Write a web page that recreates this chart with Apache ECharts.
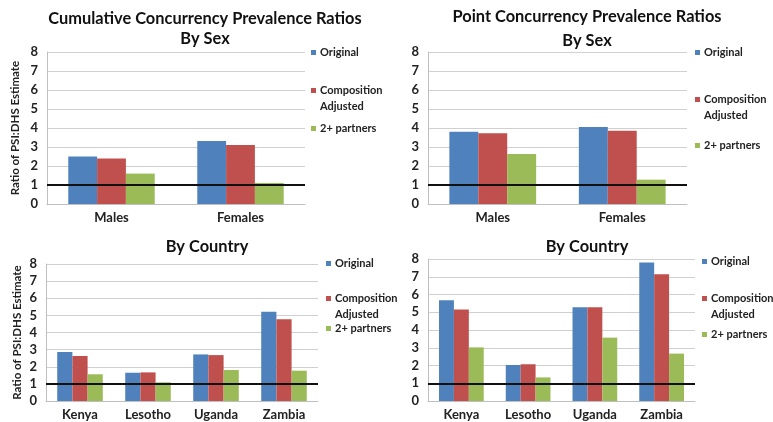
<!DOCTYPE html>
<html>
<head>
<meta charset="utf-8">
<script src="https://cdn.jsdelivr.net/npm/echarts@6/dist/echarts.min.js"></script>
<style>
  html, body { margin: 0; padding: 0; background: #ffffff; }
  #chart { width: 773px; height: 422px; }
</style>
</head>
<body>
<div id="chart"></div>
<script>
// Category labels
const sexCategories = ['Males', 'Females'];
const countryCategories = ['Kenya', 'Lesotho', 'Uganda', 'Zambia'];
const seriesNames = ['Original', 'Composition Adjusted', '2+ partners'];
const yTicks = [0, 1, 2, 3, 4, 5, 6, 7, 8];
const referenceRatio = 1;

// Cumulative concurrency, by sex
const cumSexOriginal = [2.5, 3.32];
const cumSexComposition = [2.4, 3.11];
const cumSexTwoPlus = [1.6, 1.11];

// Point concurrency, by sex
const pointSexOriginal = [3.8, 4.05];
const pointSexComposition = [3.73, 3.85];
const pointSexTwoPlus = [2.63, 1.28];

// Cumulative concurrency, by country
const cumCountryOriginal = [2.86, 1.65, 2.72, 5.21];
const cumCountryComposition = [2.63, 1.67, 2.68, 4.77];
const cumCountryTwoPlus = [1.56, 1.09, 1.81, 1.77];

// Point concurrency, by country
const pointCountryOriginal = [5.67, 2.03, 5.28, 7.8];
const pointCountryComposition = [5.15, 2.07, 5.28, 7.14];
const pointCountryTwoPlus = [3.02, 1.33, 3.57, 2.67];

const colors = ['#4F81BD', '#C0504D', '#9BBB59'];
const FONT = 'Lato, "Open Sans", sans-serif';
const TEXT = '#222222';
const LEGEND_SIZE = 11;

const panels = [
  { grid: { left: 47, top: 52, width: 258, height: 152 }, cats: sexCategories,
    data: [cumSexOriginal, cumSexComposition, cumSexTwoPlus], yName: 'Ratio of PSI:DHS Estimate', nameGap: 26,
    legend: { x: 311, y: [54, 92, 130] } },
  { grid: { left: 428, top: 52, width: 259, height: 152 }, cats: sexCategories,
    data: [pointSexOriginal, pointSexComposition, pointSexTwoPlus], yName: '', nameGap: 26,
    legend: { x: 695, y: [54, 101, 147] } },
  { grid: { left: 46, top: 264, width: 272, height: 137 }, cats: countryCategories,
    data: [cumCountryOriginal, cumCountryComposition, cumCountryTwoPlus], yName: 'Ratio of PSI:DHS Estimate', nameGap: 23,
    legend: { x: 326, y: [265, 300, 330] } },
  { grid: { left: 428, top: 259, width: 267, height: 142 }, cats: countryCategories,
    data: [pointCountryOriginal, pointCountryComposition, pointCountryTwoPlus], yName: '', nameGap: 26,
    legend: { x: 702, y: [263, 300, 336] } }
];

const grids = [], xAxes = [], yAxes = [], series = [], legends = [], graphics = [];

panels.forEach((p, i) => {
  grids.push(Object.assign({ containLabel: false }, p.grid));
  xAxes.push({
    type: 'category', gridIndex: i, data: p.cats,
    axisLine: { lineStyle: { color: '#bfbfbf', width: 1 } },
    axisTick: { show: false },
    axisLabel: { margin: 7, fontFamily: FONT, fontSize: 13, color: TEXT, fontWeight: 'bold' }
  });
  yAxes.push({
    type: 'value', gridIndex: i, min: yTicks[0], max: yTicks[yTicks.length - 1], interval: 1,
    name: p.yName, nameLocation: 'middle', nameGap: p.nameGap, nameRotate: 90,
    nameTextStyle: { fontFamily: FONT, fontSize: 11.5, fontWeight: 'bold', color: TEXT },
    axisLine: { show: true, lineStyle: { color: '#bfbfbf', width: 1 } },
    axisTick: { show: false },
    splitLine: { lineStyle: { color: '#d0d0d0', width: 1 } },
    axisLabel: { margin: 9, fontFamily: FONT, fontSize: 13, color: TEXT, fontWeight: 'bold' }
  });
  p.data.forEach((vals, k) => {
    const s = {
      type: 'bar', name: seriesNames[k], xAxisIndex: i, yAxisIndex: i,
      data: vals, barGap: '0%', barCategoryGap: '33%',
      itemStyle: { color: colors[k] }, animation: false
    };
    if (k === 2) {
      s.markLine = {
        silent: true, symbol: 'none', animation: false,
        label: { show: false },
        lineStyle: { color: '#111111', width: 2, type: 'solid' },
        data: [{ yAxis: referenceRatio }]
      };
    }
    series.push(s);
  });
  // One legend entry per series so each can sit at its own height
  seriesNames.forEach((name, k) => {
    legends.push({
      data: [name], orient: 'vertical', left: p.legend.x, top: p.legend.y[k] - 7,
      icon: 'rect', itemWidth: 5, itemHeight: 5, itemGap: 0, padding: 0,
      selectedMode: false,
      formatter: n => (n === 'Composition Adjusted' ? 'Composition' : n),
      textStyle: { fontFamily: FONT, fontSize: LEGEND_SIZE, color: TEXT, fontWeight: 'bold', padding: [0, 0, 0, -1] }
    });
  });
  graphics.push({
    type: 'text', x: p.legend.x + 9, y: p.legend.y[1] + 14,
    style: { text: 'Adjusted', font: 'bold ' + LEGEND_SIZE + 'px ' + FONT, fill: TEXT, textVerticalAlign: 'middle' }
  });
});

// Panel titles
const titleFont = 'bold 16.4px ' + FONT;
[
  { text: 'Cumulative Concurrency Prevalence Ratios', x: 205, y: 19 },
  { text: 'By Sex', x: 205, y: 39 },
  { text: 'Point Concurrency Prevalence Ratios', x: 587, y: 17 },
  { text: 'By Sex', x: 587, y: 41 },
  { text: 'By Country', x: 207, y: 247 },
  { text: 'By Country', x: 587, y: 247 }
].forEach(t => {
  graphics.push({
    type: 'text', x: t.x, y: t.y,
    style: { text: t.text, font: titleFont, fill: '#111111', textAlign: 'center', textVerticalAlign: 'middle' }
  });
});

const chart = echarts.init(document.getElementById('chart'), null, { renderer: 'canvas' });
chart.setOption({
  animation: false,
  backgroundColor: '#ffffff',
  grid: grids, xAxis: xAxes, yAxis: yAxes, series: series,
  legend: legends, graphic: graphics
});
</script>
</body>
</html>
